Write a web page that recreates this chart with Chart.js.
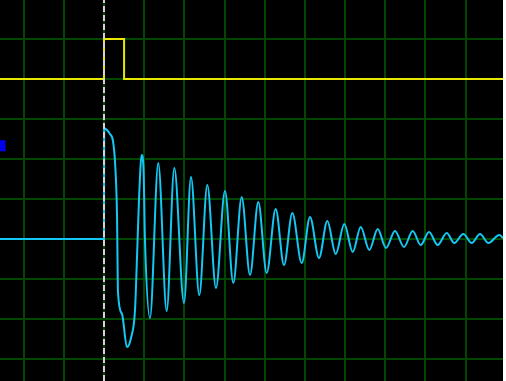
<!DOCTYPE html>
<html>
<head>
<meta charset="utf-8">
<script src="https://cdn.jsdelivr.net/npm/chart.js@4.4.1/dist/chart.umd.min.js"></script>
<style>
  html, body { margin: 0; padding: 0; background: #fff; }
  #scope { display: block; background: #000; }
</style>
</head>
<body>
<canvas id="scope" width="503" height="381"></canvas>
<script>
// time and level in screen divisions, trigger at t = 0
var tMin = -2.588, tMax = 9.93;
var vMin = -3.55, vMax = 5.975;

// yellow channel: trigger pulse
var tPulse = [-2.588, 0, 0, 0.5, 0.5, 9.93];
var vPulse = [4, 4, 5, 5, 4, 4];

// cyan channel before the trigger
var tFlat = [-2.588, 0, 0.005];
var vFlat = [0, 0, 2.775];

// cyan channel: ringing after the trigger
var tRing = [0.005, 0.075, 0.149, 0.224, 0.274, 0.324, 0.348, 0.448, 0.572, 0.672, 0.772, 0.821, 0.871, 0.938, 0.983, 1.020, 1.145,
             1.351, 1.560, 1.750, 1.991, 2.165, 2.372, 2.571, 2.787, 3.011, 3.218, 3.427, 3.634, 3.840, 4.049, 4.273, 4.480,
             4.687, 4.920, 5.127, 5.351, 5.558, 5.767, 5.981, 6.190, 6.389, 6.603, 6.812, 7.018, 7.242, 7.466, 7.683, 7.882,
             8.089, 8.305, 8.529, 8.718, 8.942, 9.151, 9.358, 9.565, 9.838, 9.93];
var vRing = [2.775, 2.725, 2.625, 2.45, 1.925, 0.6, -1.325, -1.875, -2.7, -2.475, -1.775, -0.475, 0.975, 2.1, 1.775, -0.025, -1.975,
             1.9, -1.8, 1.775, -1.6, 1.55, -1.4, 1.35, -1.225, 1.2, -1.1, 1.05, -0.9, 0.925, -0.85, 0.75, -0.65,
             0.65, -0.6, 0.55, -0.475, 0.45, -0.375, 0.375, -0.325, 0.3, -0.275, 0.25, -0.225, 0.2, -0.2, 0.2, -0.15,
             0.175, -0.15, 0.15, -0.1, 0.125, -0.1, 0.125, -0.1, 0.1, 0.025];

// trigger cursor and channel marker
var tTrig = [0, 0];
var vTrig = [vMin, vMax];
var tMark = [tMin];
var vMark = [2.33];

function pts(ts, vs) {
  var out = [];
  for (var i = 0; i < ts.length; i++) out.push({ x: ts[i], y: vs[i] });
  return out;
}

var gridGreen = 'rgb(0, 72, 0)';

new Chart(document.getElementById('scope'), {
  type: 'line',
  data: {
    datasets: [
      { data: pts(tTrig, vTrig), borderColor: '#d4d4d4', borderWidth: 2, borderDash: [6, 3], pointRadius: 0 },
      { data: pts(tPulse, vPulse), borderColor: '#e8e800', borderWidth: 2, pointRadius: 0, tension: 0 },
      { data: pts(tFlat, vFlat), borderColor: '#14c8f4', borderWidth: 2, pointRadius: 0, tension: 0 },
      { data: pts(tRing, vRing), borderColor: '#14c8f4', borderWidth: 2, pointRadius: 0, cubicInterpolationMode: 'monotone' },
      { data: pts(tMark, vMark), showLine: false, pointStyle: 'rect', pointRadius: 7.8, pointBackgroundColor: '#0000ee', pointBorderWidth: 0 }
    ]
  },
  options: {
    responsive: false,
    animation: false,
    layout: { padding: 0, autoPadding: false },
    plugins: { legend: { display: false }, tooltip: { enabled: false } },
    scales: {
      x: {
        type: 'linear', min: tMin, max: tMax,
        border: { display: false },
        grid: { color: gridGreen, lineWidth: 2, drawTicks: false },
        ticks: { display: false, stepSize: 1, includeBounds: false }
      },
      y: {
        min: vMin, max: vMax,
        border: { display: false },
        grid: { color: gridGreen, lineWidth: 2, drawTicks: false },
        ticks: { display: false, stepSize: 1, includeBounds: false }
      }
    }
  }
});
</script>
</body>
</html>
